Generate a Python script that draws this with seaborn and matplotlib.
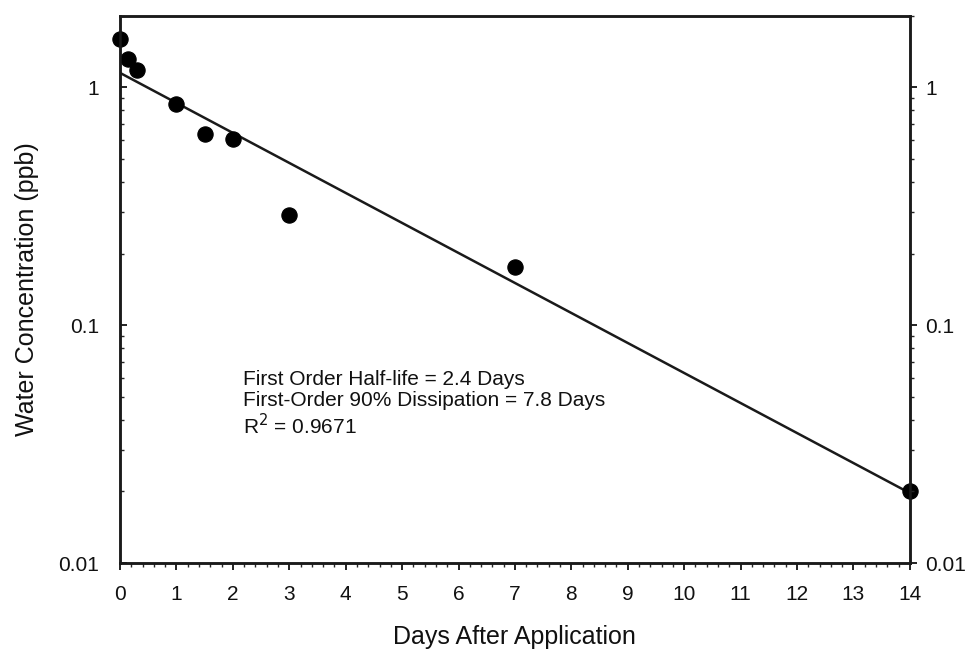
import matplotlib
matplotlib.use("Agg")
import matplotlib.pyplot as plt
import matplotlib.ticker as mticker
import seaborn as sns
import pandas as pd

# observed residues
days = [0, 0.14, 0.3, 1, 1.5, 2, 3, 7, 14]
conc = [1.59, 1.31, 1.18, 0.85, 0.635, 0.605, 0.29, 0.175, 0.0201]

# first-order fit line end points
fit_days = [0, 14]
fit_conc = [1.15, 0.0197]

obs = pd.DataFrame({"day": days, "conc": conc})
fit = pd.DataFrame({"day": fit_days, "conc": fit_conc})

sns.set_theme(style="ticks")
plt.rcParams["font.family"] = ["Liberation Sans", "DejaVu Sans"]

fig = plt.figure(figsize=(9.71, 6.54), dpi=100)
ax = fig.add_axes([0.1236, 0.139, 0.8134, 0.837])

sns.lineplot(data=fit, x="day", y="conc", ax=ax, color="#1a1a1a", linewidth=1.8)
sns.scatterplot(data=obs, x="day", y="conc", ax=ax, color="black", s=120,
                edgecolor="black", zorder=3, clip_on=False)

ax.set_yscale("log")
ax.set_xlim(0, 14)
ax.set_ylim(0.01, 2)
ax.xaxis.set_major_locator(mticker.MultipleLocator(1))
ax.xaxis.set_minor_locator(mticker.MultipleLocator(0.2))
ax.yaxis.set_major_locator(mticker.FixedLocator([0.01, 0.1, 1]))
ax.yaxis.set_major_formatter(mticker.FixedFormatter(["0.01", "0.1", "1"]))
ax.yaxis.set_minor_locator(mticker.LogLocator(base=10, subs=range(2, 10)))
ax.yaxis.set_minor_formatter(mticker.NullFormatter())

for side in ["left", "right", "top", "bottom"]:
    ax.spines[side].set_linewidth(1.8)
    ax.spines[side].set_color("#1a1a1a")

ax.tick_params(axis="both", which="major", labelsize=15, length=5, width=1.3,
               colors="#111111", pad=11)
ax.tick_params(axis="both", which="minor", length=3, width=1)
ax.tick_params(axis="y", which="both", direction="in", pad=15)

ax2 = ax.twinx()
ax2.set_yscale("log")
ax2.set_ylim(ax.get_ylim())
ax2.yaxis.set_major_locator(mticker.FixedLocator([0.01, 0.1, 1]))
ax2.yaxis.set_major_formatter(mticker.FixedFormatter(["0.01", "0.1", "1"]))
ax2.yaxis.set_minor_locator(mticker.LogLocator(base=10, subs=range(2, 10)))
ax2.yaxis.set_minor_formatter(mticker.NullFormatter())
ax2.tick_params(axis="y", which="major", labelsize=15, length=5, width=1.3,
                colors="#111111", pad=6)
ax2.tick_params(axis="y", which="minor", length=3, width=1)
for side in ["left", "right", "top", "bottom"]:
    ax2.spines[side].set_linewidth(1.8)
    ax2.spines[side].set_color("#1a1a1a")

ax.set_xlabel("Days After Application", fontsize=18, labelpad=15, color="#111111")
ax.set_ylabel("Water Concentration (ppb)", fontsize=18, labelpad=14, color="#111111")

ax.text(2.18, 0.0466, "First Order Half-life = 2.4 Days\n"
        "First-Order 90% Dissipation = 7.8 Days\n"
        "R$^2$ = 0.9671",
        fontsize=15, va="center", ha="left", linespacing=1.15, color="#111111")

fig.savefig("out.png", dpi=100, facecolor="white")
